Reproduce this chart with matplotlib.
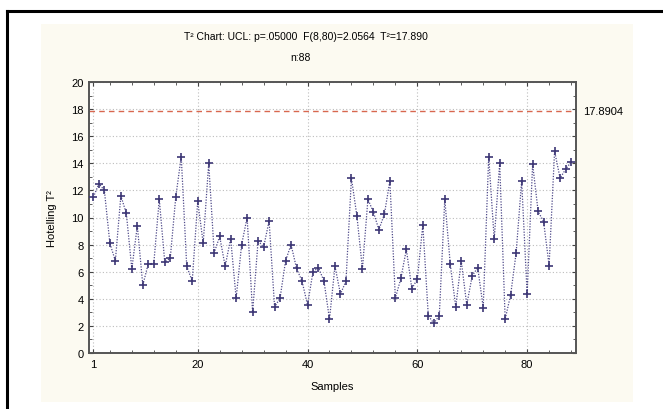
import matplotlib
matplotlib.use("Agg")
import matplotlib.pyplot as plt
from matplotlib.ticker import FixedLocator, MultipleLocator
from matplotlib.patches import Rectangle
from matplotlib.lines import Line2D

# Hotelling T^2 values per sample
samples = list(range(1, 89))
t2 = [11.5, 12.5, 12.0, 8.1, 6.8, 11.6, 10.3, 6.2, 9.4, 5.0,
      6.6, 6.6, 11.35, 6.7, 7.0, 11.5, 14.5, 6.4, 5.3, 11.2,
      8.1, 14.0, 7.4, 8.6, 6.4, 8.45, 4.05, 8.0, 10.0, 3.0,
      8.3, 7.8, 9.75, 3.4, 4.05, 6.8, 8.0, 6.25, 5.3, 3.55,
      6.0, 6.3, 5.3, 2.5, 6.4, 4.35, 5.3, 12.9, 10.1, 6.2,
      11.35, 10.4, 9.1, 10.25, 12.7, 4.05, 5.5, 7.65, 4.75, 5.45,
      9.45, 2.75, 2.2, 2.75, 11.35, 6.55, 3.4, 6.8, 3.55, 5.7,
      6.3, 3.35, 14.5, 8.4, 14.0, 2.5, 4.3, 7.4, 12.7, 4.35,
      13.95, 10.45, 9.7, 6.45, 14.9, 12.9, 13.55, 14.1]
ucl = 17.8904
x_ticks = [1, 20, 40, 60, 80]

plt.rcParams['font.family'] = ['Liberation Sans', 'DejaVu Sans']

fig = plt.figure(figsize=(6.63, 4.10), dpi=100)
fig.patch.set_facecolor("white")

# cream panel and the black frame (top/left only visible)
fig.patches.append(Rectangle((41 / 663, 1 - 403 / 410), (633 - 41) / 663, (403 - 25) / 410,
                             transform=fig.transFigure, facecolor="#fcfaf1", edgecolor="none",
                             zorder=-10))
fig.lines.append(Line2D([7 / 663, 7 / 663], [0, 1 - 12 / 410], transform=fig.transFigure,
                        color="black", lw=2.2, zorder=-5))
fig.lines.append(Line2D([7 / 663, 1], [1 - 12 / 410, 1 - 12 / 410], transform=fig.transFigure,
                        color="black", lw=2.2, zorder=-5))

ax = fig.add_axes([89 / 663, 1 - 354 / 410, (576 - 89) / 663, (354 - 83) / 410])
ax.set_zorder(1)
ax.set_facecolor("white")

# dotted connecting line + cross markers, dashed UCL
ax.plot(samples, t2, color="#4f4a8a", lw=0.9, ls=(0, (1, 1.2)), zorder=3)
ax.plot(samples, t2, ls="none", marker="+", ms=6, mew=1.2, color="#3d3775", zorder=4)
ax.axhline(ucl, color="#d8674f", lw=1.0, ls=(0, (4, 3)), zorder=2)

ax.set_xlim(0.2, 88.9)
ax.set_ylim(0, 20)
ax.xaxis.set_major_locator(FixedLocator(x_ticks))
ax.xaxis.set_minor_locator(MultipleLocator(4))
ax.yaxis.set_major_locator(MultipleLocator(2))
ax.yaxis.set_minor_locator(MultipleLocator(1))
ax.grid(True, which="major", color="#bdbdbd", ls=(0, (1, 2)), lw=0.8)
ax.tick_params(which="both", direction="in", top=True, right=True, labelsize=8,
               color="#444444", pad=4)
ax.tick_params(which="major", length=3)
ax.tick_params(which="minor", length=2)
for s in ax.spines.values():
    s.set_color("#555555")
    s.set_linewidth(1.4)

ax.set_xlabel("Samples", fontsize=8, labelpad=9)
ax.set_ylabel("Hotelling T²", fontsize=8, labelpad=10)

ax.text(1.015, ucl, "17.8904", transform=ax.get_yaxis_transform(), fontsize=8,
        va="center", ha="left")

fig.text(306 / 663, 1 - 37 / 410, "T² Chart: UCL: p=.05000  F(8,80)=2.0564  T²=17.890",
         ha="center", va="center", fontsize=7.5)
fig.text(300 / 663, 1 - 58 / 410, "n:88", ha="center", va="center", fontsize=7.5)

fig.savefig("out.png", dpi=100)
